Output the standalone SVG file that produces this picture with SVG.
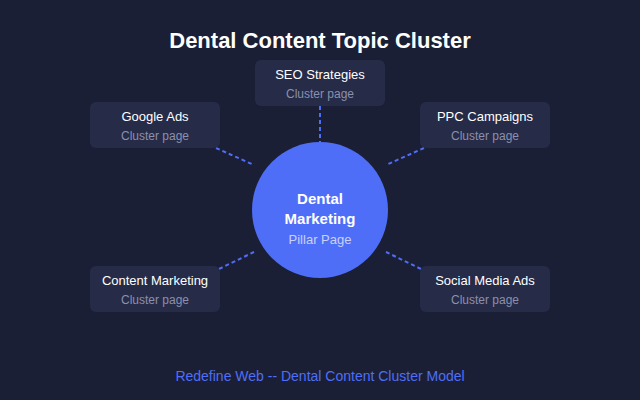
<svg xmlns="http://www.w3.org/2000/svg" width="640" height="400" viewBox="0 0 640 400">
<style>
text{font-family:"Liberation Sans",Arial,sans-serif;text-anchor:middle}
.box{fill:#262b48}
.t{font-size:13px;fill:#ffffff}
.s{font-size:12px;fill:#8a90ad}
.c{stroke:#4f6ef7;stroke-width:2;stroke-dasharray:4 3;fill:none}
</style>
<rect width="640" height="400" fill="#1b1f35"/>
<text x="320" y="48" font-size="22" font-weight="bold" fill="#ffffff">Dental Content Topic Cluster</text>
<g id="connectors">
<line class="c" x1="320" y1="106" x2="320" y2="142"/>
<line class="c" x1="216" y1="148" x2="254" y2="165"/>
<line class="c" x1="424" y1="148" x2="386" y2="165"/>
<line class="c" x1="219" y1="269" x2="254" y2="252"/>
<line class="c" x1="421" y1="269" x2="386" y2="252"/>
</g>
<g id="pillar">
<circle cx="320" cy="210" r="68" fill="#4f6ef7"/>
<text x="320" y="204" font-size="15" font-weight="bold" fill="#ffffff">Dental</text>
<text x="320" y="224" font-size="15" font-weight="bold" fill="#ffffff">Marketing</text>
<text x="320" y="244" font-size="13" fill="#c8d1fa">Pillar Page</text>
</g>
<g id="seo">
<rect class="box" x="255" y="60" width="130" height="46" rx="6"/>
<text class="t" x="320" y="79">SEO Strategies</text>
<text class="s" x="320" y="98">Cluster page</text>
</g>
<g id="google">
<rect class="box" x="90" y="102" width="130" height="46" rx="6"/>
<text class="t" x="155" y="121">Google Ads</text>
<text class="s" x="155" y="140">Cluster page</text>
</g>
<g id="ppc">
<rect class="box" x="420" y="102" width="130" height="46" rx="6"/>
<text class="t" x="485" y="121">PPC Campaigns</text>
<text class="s" x="485" y="140">Cluster page</text>
</g>
<g id="content">
<rect class="box" x="90" y="266" width="130" height="46" rx="6"/>
<text class="t" x="155" y="285">Content Marketing</text>
<text class="s" x="155" y="304">Cluster page</text>
</g>
<g id="social">
<rect class="box" x="420" y="266" width="130" height="46" rx="6"/>
<text class="t" x="485" y="285">Social Media Ads</text>
<text class="s" x="485" y="304">Cluster page</text>
</g>
<text x="320" y="381" font-size="14" fill="#4f6ef7">Redefine Web -- Dental Content Cluster Model</text>
</svg>
